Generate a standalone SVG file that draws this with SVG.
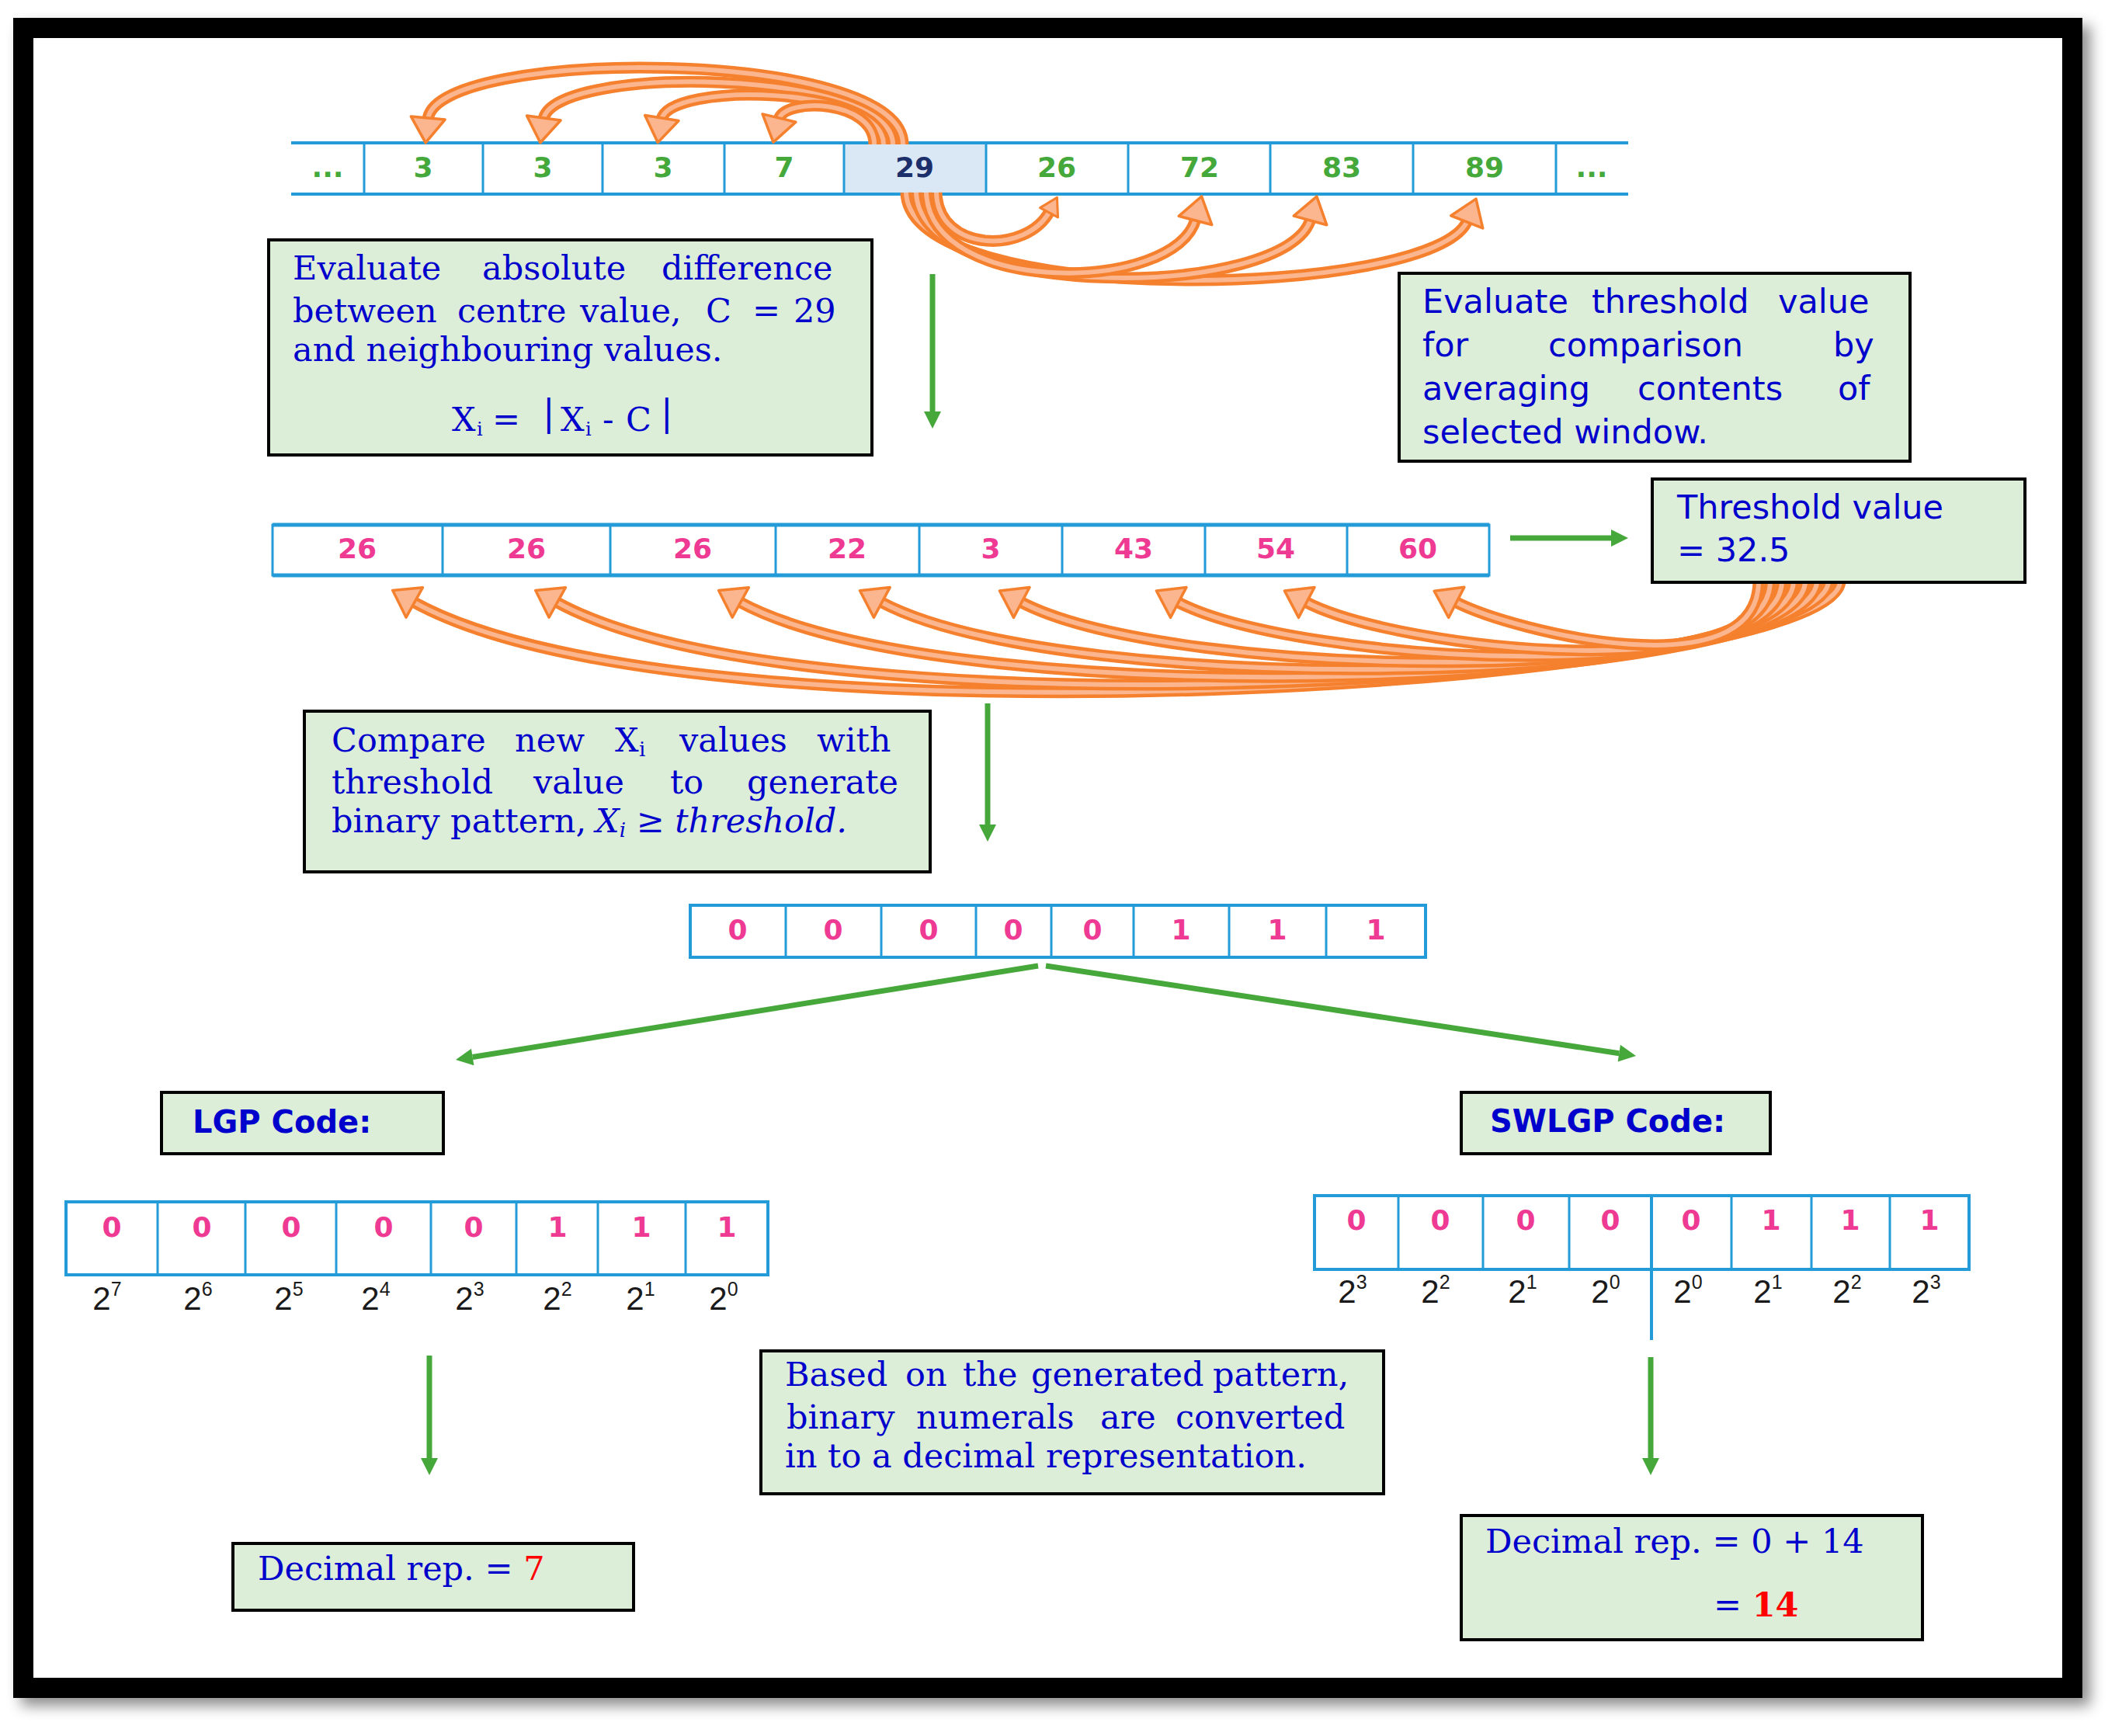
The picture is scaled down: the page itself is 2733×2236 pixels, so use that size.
<svg xmlns="http://www.w3.org/2000/svg" width="2733" height="2236" viewBox="0 0 2733 2236">
<defs>
<style>
.serif{font-family:"DejaVu Serif","Liberation Serif",serif;font-size:43px;fill:#0000CC}
.sans{font-family:"DejaVu Sans","Liberation Sans",sans-serif;font-size:43px;fill:#0000CC}
.lbl{font-family:"DejaVu Sans","Liberation Sans",sans-serif;font-weight:bold;font-size:40px;fill:#0000CC}
.dg{font-family:"DejaVu Sans","Liberation Sans",sans-serif;font-weight:bold;font-size:36px;text-anchor:middle}
.g{fill:#45A83A}.pk{fill:#EE3A93}.nv{fill:#1C2F6B}
.pw{font-family:"Liberation Sans","DejaVu Sans",sans-serif;font-size:42px;fill:#1a1a1a;text-anchor:middle}
.box{fill:#DDEED8;stroke:#000;stroke-width:4}
.bl3{stroke:#229BD8;stroke-width:3;fill:none}
.bl4{stroke:#229BD8;stroke-width:4;fill:none}
.bl5{stroke:#229BD8;stroke-width:5;fill:none}
.ob{fill:none;stroke:#F5802D;stroke-width:15}
.oi{fill:none;stroke:#FBB58F;stroke-width:6;marker-end:url(#oh)}
.ois{fill:none;stroke:#FBB58F;stroke-width:6;marker-end:url(#ohs)}
.gr{fill:none;stroke:#46A83A;stroke-width:7;marker-end:url(#gh)}
.red{fill:#FF0000}
</style>
<marker id="oh" markerUnits="userSpaceOnUse" orient="auto" refX="0" refY="0" markerWidth="80" markerHeight="80" style="overflow:visible">
<path d="M-2,-22 L30,0 L-2,22 Z" fill="#FBB58F" stroke="#F5802D" stroke-width="3.5" stroke-linejoin="round"/>
</marker>
<marker id="ohs" markerUnits="userSpaceOnUse" orient="auto" refX="0" refY="0" markerWidth="60" markerHeight="60" style="overflow:visible">
<path d="M-2,-13 L20,0 L-2,13 Z" fill="#FBB58F" stroke="#F5802D" stroke-width="3" stroke-linejoin="round"/>
</marker>
<marker id="gh" markerUnits="userSpaceOnUse" orient="auto" refX="0" refY="0" markerWidth="50" markerHeight="50" style="overflow:visible">
<path d="M0,-11 L22,0 L0,11 Z" fill="#46A83A"/>
</marker>
<filter id="sh" x="-5%" y="-5%" width="110%" height="110%">
<feDropShadow dx="10" dy="10" stdDeviation="9" flood-color="#000" flood-opacity="0.45"/>
</filter>
</defs>

<rect x="0" y="0" width="2733" height="2236" fill="#FFFFFF"/>

<g id="frame" filter="url(#sh)">
<rect x="30" y="36" width="2639" height="2138" fill="#FFFFFF" stroke="#000" stroke-width="26"/>
</g>

<g id="row-input">
<rect x="1087" y="184" width="183" height="66" fill="#DAE8F5"/>
<path class="bl4" d="M375,184H2097M375,250H2097"/>
<path class="bl3" d="M469,184V250M622,184V250M776,184V250M933,184V250M1087,184V250M1270,184V250M1453,184V250M1636,184V250M1820,184V250M2004,184V250"/>
<text class="dg g" x="422" y="228" font-size="28">...</text>
<text class="dg g" x="545" y="228">3</text>
<text class="dg g" x="699" y="228">3</text>
<text class="dg g" x="854" y="228">3</text>
<text class="dg g" x="1010" y="228">7</text>
<text class="dg nv" x="1178" y="228">29</text>
<text class="dg g" x="1361" y="228">26</text>
<text class="dg g" x="1545" y="228">72</text>
<text class="dg g" x="1728" y="228">83</text>
<text class="dg g" x="1912" y="228">89</text>
<text class="dg g" x="2050" y="228" font-size="28">...</text>
</g>

<g id="row-diff">
<rect x="351" y="676" width="1567" height="65" fill="#FFFFFF" class="bl3"/>
<path class="bl5" d="M351,676H1918M351,741H1918"/>
<path class="bl3" d="M570,676V741M786,676V741M999,676V741M1184,676V741M1368,676V741M1552,676V741M1735,676V741"/>
<text class="dg pk" x="460" y="719">26</text>
<text class="dg pk" x="678" y="719">26</text>
<text class="dg pk" x="892" y="719">26</text>
<text class="dg pk" x="1091" y="719">22</text>
<text class="dg pk" x="1276" y="719">3</text>
<text class="dg pk" x="1460" y="719">43</text>
<text class="dg pk" x="1643" y="719">54</text>
<text class="dg pk" x="1826" y="719">60</text>
</g>

<g id="row-binary">
<rect x="889" y="1166" width="947" height="67" fill="#FFFFFF" class="bl4"/>
<path class="bl3" d="M1012,1166V1233M1135,1166V1233M1257,1166V1233M1354,1166V1233M1460,1166V1233M1583,1166V1233M1708,1166V1233"/>
<text class="dg pk" x="950" y="1210">0</text>
<text class="dg pk" x="1073" y="1210">0</text>
<text class="dg pk" x="1196" y="1210">0</text>
<text class="dg pk" x="1305" y="1210">0</text>
<text class="dg pk" x="1407" y="1210">0</text>
<text class="dg pk" x="1521" y="1210">1</text>
<text class="dg pk" x="1645" y="1210">1</text>
<text class="dg pk" x="1772" y="1210">1</text>
</g>

<g id="row-lgp">
<rect x="85" y="1548" width="904" height="94" fill="#FFFFFF" class="bl4"/>
<path class="bl3" d="M203,1548V1642M316,1548V1642M433,1548V1642M555,1548V1642M665,1548V1642M770,1548V1642M883,1548V1642"/>
<text class="dg pk" x="144" y="1593">0</text>
<text class="dg pk" x="260" y="1593">0</text>
<text class="dg pk" x="375" y="1593">0</text>
<text class="dg pk" x="494" y="1593">0</text>
<text class="dg pk" x="610" y="1593">0</text>
<text class="dg pk" x="718" y="1593">1</text>
<text class="dg pk" x="826" y="1593">1</text>
<text class="dg pk" x="936" y="1593">1</text>
<text class="pw" x="138" y="1687">2<tspan font-size="25" dy="-18">7</tspan></text>
<text class="pw" x="255" y="1687">2<tspan font-size="25" dy="-18">6</tspan></text>
<text class="pw" x="372" y="1687">2<tspan font-size="25" dy="-18">5</tspan></text>
<text class="pw" x="484" y="1687">2<tspan font-size="25" dy="-18">4</tspan></text>
<text class="pw" x="605" y="1687">2<tspan font-size="25" dy="-18">3</tspan></text>
<text class="pw" x="718" y="1687">2<tspan font-size="25" dy="-18">2</tspan></text>
<text class="pw" x="825" y="1687">2<tspan font-size="25" dy="-18">1</tspan></text>
<text class="pw" x="932" y="1687">2<tspan font-size="25" dy="-18">0</tspan></text>
</g>

<g id="row-swlgp">
<rect x="1693" y="1540" width="843" height="95" fill="#FFFFFF" class="bl4"/>
<path class="bl3" d="M1801,1540V1635M1910,1540V1635M2021,1540V1635M2230,1540V1635M2333,1540V1635M2434,1540V1635"/>
<path class="bl4" d="M2127,1540V1726"/>
<text class="dg pk" x="1747" y="1584">0</text>
<text class="dg pk" x="1855" y="1584">0</text>
<text class="dg pk" x="1965" y="1584">0</text>
<text class="dg pk" x="2074" y="1584">0</text>
<text class="dg pk" x="2178" y="1584">0</text>
<text class="dg pk" x="2281" y="1584">1</text>
<text class="dg pk" x="2383" y="1584">1</text>
<text class="dg pk" x="2485" y="1584">1</text>
<text class="pw" x="1742" y="1678">2<tspan font-size="25" dy="-18">3</tspan></text>
<text class="pw" x="1849" y="1678">2<tspan font-size="25" dy="-18">2</tspan></text>
<text class="pw" x="1961" y="1678">2<tspan font-size="25" dy="-18">1</tspan></text>
<text class="pw" x="2068" y="1678">2<tspan font-size="25" dy="-18">0</tspan></text>
<text class="pw" x="2174" y="1678">2<tspan font-size="25" dy="-18">0</tspan></text>
<text class="pw" x="2277" y="1678">2<tspan font-size="25" dy="-18">1</tspan></text>
<text class="pw" x="2379" y="1678">2<tspan font-size="25" dy="-18">2</tspan></text>
<text class="pw" x="2481" y="1678">2<tspan font-size="25" dy="-18">3</tspan></text>
</g>

<g id="connectors">
<!-- top row: centre to left neighbours -->
<g id="arc-c-3a"><path class="ob" d="M1163,186 C1163,60 560,60 551,154"/><path class="oi" d="M1163,186 C1163,60 560,60 551,154"/></g>
<g id="arc-c-3b"><path class="ob" d="M1150,186 C1150,88 710,82 700,154"/><path class="oi" d="M1150,186 C1150,88 710,82 700,154"/></g>
<g id="arc-c-3c"><path class="ob" d="M1138,186 C1138,110 860,105 852,154"/><path class="oi" d="M1138,186 C1138,110 860,105 852,154"/></g>
<g id="arc-c-7"><path class="ob" d="M1126,186 C1126,128 1010,125 1003,154"/><path class="oi" d="M1126,186 C1126,128 1010,125 1003,154"/></g>
<!-- top row: centre to right neighbours -->
<g id="arc-c-89"><path class="ob" d="M1167,248 C1172,400 1850,385 1890,284"/><path class="oi" d="M1167,248 C1172,400 1850,385 1890,284"/></g>
<g id="arc-c-83"><path class="ob" d="M1180,248 C1185,392 1660,385 1688,282"/><path class="oi" d="M1180,248 C1185,392 1660,385 1688,282"/></g>
<g id="arc-c-72"><path class="ob" d="M1193,248 C1198,382 1515,378 1540,282"/><path class="oi" d="M1193,248 C1198,382 1515,378 1540,282"/></g>
<g id="arc-c-26"><path class="ob" d="M1206,248 C1208,325 1322,328 1352,272"/><path class="ois" d="M1206,248 C1208,325 1322,328 1352,272"/></g>
<!-- threshold to difference cells -->
<g id="arc-t-1"><path class="ob" d="M2370,748 C2370,879 900,980 532,775"/><path class="oi" d="M2370,748 C2370,879 900,980 532,775"/></g>
<g id="arc-t-2"><path class="ob" d="M2355,748 C2355,878 1044,957 716,775"/><path class="oi" d="M2355,748 C2355,878 1044,957 716,775"/></g>
<g id="arc-t-3"><path class="ob" d="M2340,748 C2340,887 1230,927 952,775"/><path class="oi" d="M2340,748 C2340,887 1230,927 952,775"/></g>
<g id="arc-t-4"><path class="ob" d="M2325,748 C2325,887 1372,903 1134,775"/><path class="oi" d="M2325,748 C2325,887 1372,903 1134,775"/></g>
<g id="arc-t-5"><path class="ob" d="M2310,748 C2310,886 1513,880 1314,775"/><path class="oi" d="M2310,748 C2310,886 1513,880 1314,775"/></g>
<g id="arc-t-6"><path class="ob" d="M2295,748 C2295,889 1672,857 1516,775"/><path class="oi" d="M2295,748 C2295,889 1672,857 1516,775"/></g>
<g id="arc-t-7"><path class="ob" d="M2280,748 C2280,888 1801,838 1681,775"/><path class="oi" d="M2280,748 C2280,888 1801,838 1681,775"/></g>
<g id="arc-t-8"><path class="ob" d="M2265,748 C2265,890 1952,815 1874,775"/><path class="oi" d="M2265,748 C2265,890 1952,815 1874,775"/></g>
<!-- green flow arrows -->
<path class="gr" d="M1201,353 V530"/>
<path class="gr" d="M1945,693 H2075"/>
<path class="gr" d="M1272,906 V1062"/>
<path class="gr" d="M1337,1244 L608.7,1361.5"/>
<path class="gr" d="M1347,1244 L2085.3,1356.7"/>
<path class="gr" d="M553,1746 V1878"/>
<path class="gr" d="M2126,1748 V1878"/>
</g>

<g id="box-absdiff">
<rect class="box" x="346" y="309" width="777" height="277"/>
<text class="serif" y="360"><tspan x="377">Evaluate</tspan><tspan x="621">absolute</tspan><tspan x="852">difference</tspan></text>
<text class="serif" y="415"><tspan x="377">between</tspan><tspan x="589">centre</tspan><tspan x="747">value,</tspan><tspan x="909">C</tspan><tspan x="969">=</tspan><tspan x="1022">29</tspan></text>
<text class="serif" x="377" y="465">and neighbouring values.</text>
<text class="serif" y="555"><tspan x="582">X</tspan><tspan x="614" y="561" font-size="24">i</tspan><tspan x="634" y="555">=</tspan><tspan x="699" y="548" font-size="46">|</tspan><tspan x="722" y="555">X</tspan><tspan x="754" y="561" font-size="24">i</tspan><tspan x="776" y="555">-</tspan><tspan x="806" y="555">C</tspan><tspan x="851" y="548" font-size="46">|</tspan></text>
</g>

<g id="box-threshold-eval">
<rect class="box" x="1802" y="352" width="658" height="242"/>
<text class="sans" y="403"><tspan x="1832">Evaluate</tspan><tspan x="2050">threshold</tspan><tspan x="2290">value</tspan></text>
<text class="sans" y="459"><tspan x="1832">for</tspan><tspan x="1994">comparison</tspan><tspan x="2361">by</tspan></text>
<text class="sans" y="515"><tspan x="1832">averaging</tspan><tspan x="2109">contents</tspan><tspan x="2367">of</tspan></text>
<text class="sans" x="1832" y="571">selected window.</text>
</g>

<g id="box-threshold">
<rect class="box" x="2128" y="617" width="480" height="133"/>
<text class="sans" x="2160" y="668">Threshold value</text>
<text class="sans" x="2160" y="723">= 32.5</text>
</g>

<g id="box-compare">
<rect class="box" x="392" y="916" width="806" height="207"/>
<text class="serif" y="968"><tspan x="427">Compare</tspan><tspan x="663">new</tspan><tspan x="792">X</tspan><tspan x="823" dy="6" font-size="26">i</tspan><tspan x="875" dy="-6">values</tspan><tspan x="1052">with</tspan></text>
<text class="serif" y="1022"><tspan x="427">threshold</tspan><tspan x="687">value</tspan><tspan x="863">to</tspan><tspan x="962">generate</tspan></text>
<text class="serif" y="1072"><tspan x="427">binary pattern,</tspan><tspan x="767" font-style="italic">X</tspan><tspan font-style="italic" font-size="26" dy="6">i</tspan><tspan font-style="italic" dy="-6"> ≥ threshold.</tspan></text>
</g>

<g id="box-lgp-label">
<rect class="box" x="208" y="1407" width="363" height="79"/>
<text class="lbl" x="248" y="1459">LGP Code:</text>
</g>

<g id="box-swlgp-label">
<rect class="box" x="1882" y="1407" width="398" height="79"/>
<text class="lbl" x="1919" y="1458">SWLGP Code:</text>
</g>

<g id="box-convert">
<rect class="box" x="980" y="1740" width="802" height="184"/>
<text class="serif" y="1785"><tspan x="1011">Based</tspan><tspan x="1166">on</tspan><tspan x="1240">the</tspan><tspan x="1328">generated</tspan><tspan x="1562">pattern,</tspan></text>
<text class="serif" y="1840"><tspan x="1013">binary</tspan><tspan x="1180">numerals</tspan><tspan x="1417">are</tspan><tspan x="1514">converted</tspan></text>
<text class="serif" x="1011" y="1890">in to a decimal representation.</text>
</g>

<g id="box-dec-lgp">
<rect class="box" x="300" y="1988" width="516" height="86"/>
<text class="serif" x="332" y="2035">Decimal rep. = <tspan class="red">7</tspan></text>
</g>

<g id="box-dec-swlgp">
<rect class="box" x="1882" y="1952" width="594" height="160"/>
<text class="serif" x="1913" y="2000">Decimal rep. = 0 + 14</text>
<text class="serif" x="2207" y="2082">= <tspan class="red" font-weight="bold">14</tspan></text>
</g>
</svg>
